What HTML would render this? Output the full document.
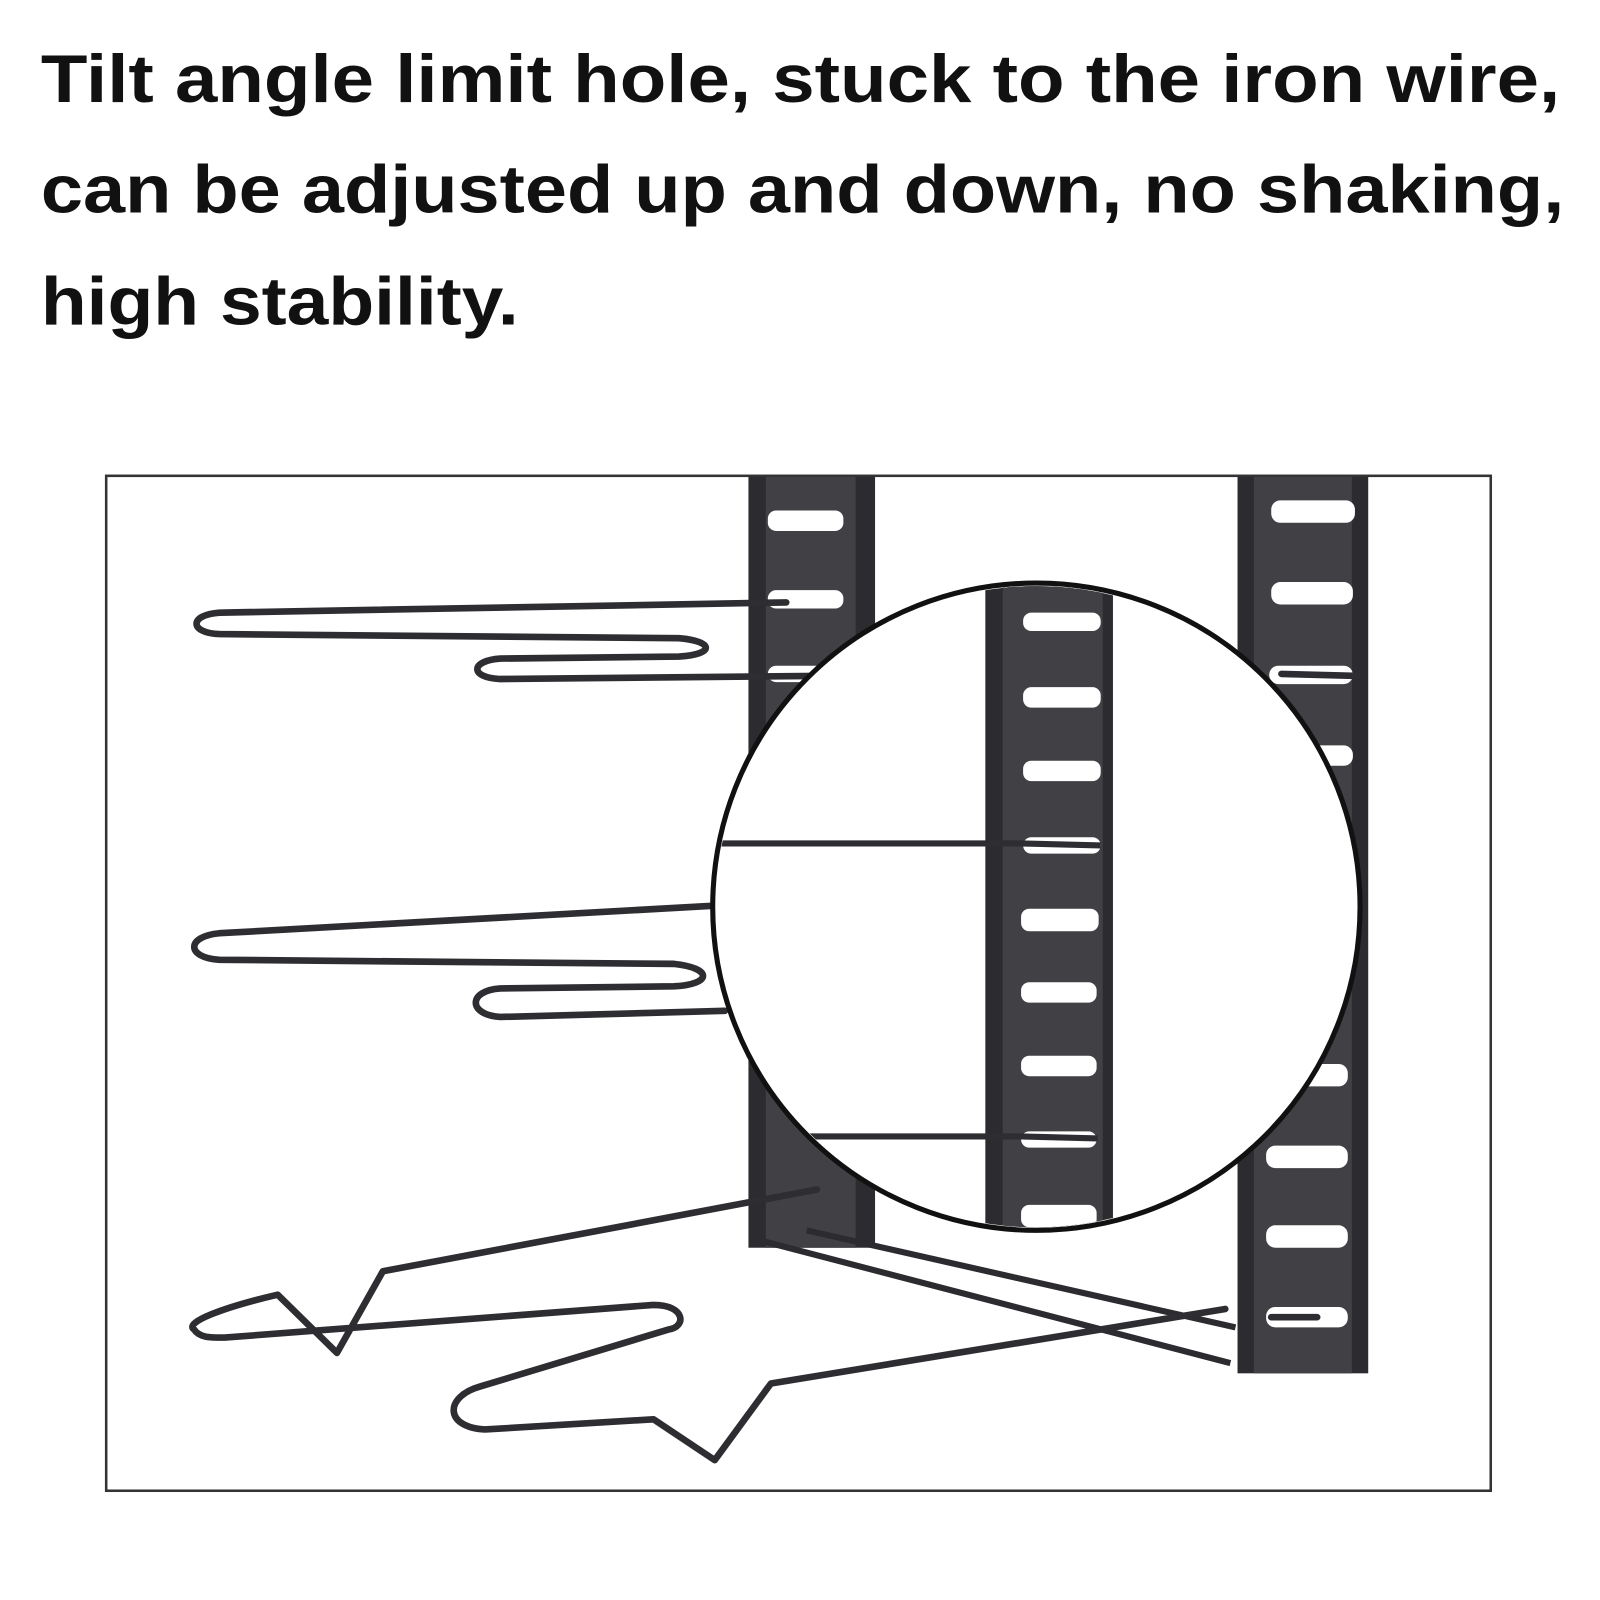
<!DOCTYPE html>
<html><head><meta charset="utf-8"><style>
html,body{margin:0;padding:0;background:#fff;width:1600px;height:1600px;overflow:hidden}
svg{display:block}
</style></head><body>
<svg width="1600" height="1600" viewBox="0 0 1567 1567" xmlns="http://www.w3.org/2000/svg">
<rect width="1567" height="1567" fill="#fff"/>
<g font-family="Liberation Sans, sans-serif" font-weight="bold" font-size="66" fill="#111">
<text x="40" y="100" textLength="1488" lengthAdjust="spacingAndGlyphs">Tilt angle limit hole, stuck to the iron wire,</text>
<text x="40" y="208" textLength="1492" lengthAdjust="spacingAndGlyphs">can be adjusted up and down, no shaking,</text>
<text x="40" y="318" textLength="468" lengthAdjust="spacingAndGlyphs">high stability.</text>
</g>
<rect x="104" y="466" width="1356" height="994" fill="none" stroke="#333" stroke-width="2.5"/>
<!-- left post -->
<rect x="733" y="467" width="124" height="755" fill="#2c2c30"/>
<rect x="750" y="467" width="88" height="755" fill="#404045"/>
<g fill="#fff">
<rect x="752" y="500" width="74" height="20" rx="8"/>
<rect x="752" y="578" width="74" height="18" rx="8"/>
<rect x="752" y="652" width="74" height="16" rx="8"/>
</g>
<!-- right post -->
<rect x="1212" y="467" width="128" height="878" fill="#2c2c30"/>
<rect x="1228" y="467" width="96" height="878" fill="#404045"/>
<g fill="#fff">
<rect x="1245" y="490" width="82" height="22" rx="9"/>
<rect x="1245" y="570" width="80" height="22" rx="9"/>
<rect x="1243" y="652" width="82" height="18" rx="9"/>
<rect x="1243" y="730" width="82" height="20" rx="9"/>
<rect x="1240" y="1042" width="80" height="22" rx="9"/>
<rect x="1240" y="1122" width="80" height="22" rx="9"/>
<rect x="1240" y="1200" width="80" height="22" rx="9"/>
<rect x="1240" y="1280" width="80" height="20" rx="9"/>
</g>
<!-- base bars -->
<g stroke="#2c2c30" stroke-width="6" fill="none">
<line x1="745" y1="1215" x2="1205" y2="1335"/>
<line x1="790" y1="1205" x2="1210" y2="1300"/>
</g>
<!-- wires -->
<g stroke="#2e2e32" stroke-width="6.5" fill="none" stroke-linejoin="round" stroke-linecap="round">
<path d="M 770 590 L 215 600 C 185 602 185 620 215 621 L 665 625 C 700 628 700 641 665 643 L 490 645 C 460 647 460 664 490 665 L 800 662"/>
<path d="M 700 887 L 215 914 C 182 917 182 938 215 940 L 660 944 C 698 948 698 964 660 966 L 490 968 C 458 970 458 994 490 996 L 710 990"/>
<path d="M 800 1165 L 375 1245 L 330 1325 L 272 1268 C 220 1280 180 1295 190 1302 C 195 1310 205 1310 220 1310 L 640 1278 C 672 1278 672 1300 655 1302 L 470 1358 C 435 1368 435 1398 475 1400 L 640 1390 L 700 1430 L 755 1355 L 1200 1282"/>
<path d="M 1245 1290 L 1290 1290"/>
<path d="M 1255 660 L 1330 662"/>
</g>
<!-- magnifier circle -->
<circle cx="1015" cy="888" r="317" fill="#fff" stroke="#111" stroke-width="5"/>
<clipPath id="c"><circle cx="1015" cy="888" r="314"/></clipPath>
<g clip-path="url(#c)">
<rect x="965" y="560" width="125" height="660" fill="#2c2c30"/>
<rect x="982" y="560" width="98" height="660" fill="#404045"/>
<g fill="#fff">
<rect x="1002" y="600" width="76" height="18" rx="8"/>
<rect x="1002" y="673" width="76" height="20" rx="8"/>
<rect x="1002" y="745" width="76" height="20" rx="8"/>
<rect x="1002" y="820" width="76" height="16" rx="8"/>
<rect x="1000" y="890" width="76" height="22" rx="8"/>
<rect x="1000" y="962" width="74" height="20" rx="8"/>
<rect x="1000" y="1034" width="74" height="20" rx="8"/>
<rect x="1000" y="1108" width="74" height="16" rx="8"/>
<rect x="1000" y="1180" width="74" height="22" rx="8"/>
</g>
<g stroke="#2e2e32" stroke-width="6" fill="none">
<line x1="700" y1="826" x2="1000" y2="826"/>
<path d="M 1000 826 L 1078 828"/>
<line x1="790" y1="1113" x2="1000" y2="1113"/>
<path d="M 1000 1113 L 1075 1115"/>
</g>
</g>
</svg>
</body></html>
